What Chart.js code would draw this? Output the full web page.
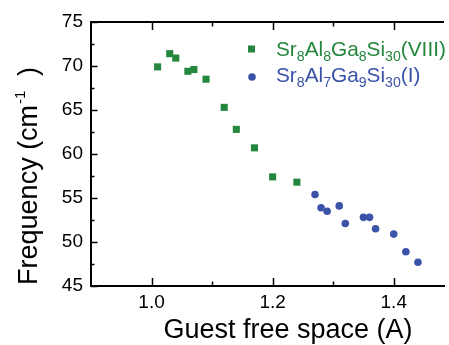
<!DOCTYPE html>
<html>
<head>
<meta charset="utf-8">
<script src="https://cdn.jsdelivr.net/npm/chart.js@4.4.0/dist/chart.umd.min.js"></script>
<style>
  html, body { margin: 0; padding: 0; background: #fff; }
  #wrap { width: 449px; height: 345px; position: relative; }
</style>
</head>
<body>
<div id="wrap"><canvas id="chartFreq"></canvas></div>
<script>
// Datos
const seriesNames = ["Sr8Al8Ga8Si30(VIII)", "Sr8Al7Ga9Si30(I)"];
const viii_x = [1.01, 1.03, 1.04, 1.06, 1.07, 1.09, 1.12, 1.14, 1.17, 1.20, 1.24];
const viii_y = [69.9, 71.4, 70.9, 69.4, 69.6, 68.5, 65.3, 62.8, 60.7, 57.4, 56.8];
const i_x = [1.27, 1.28, 1.29, 1.31, 1.32, 1.35, 1.36, 1.37, 1.40, 1.42, 1.44];
const i_y = [55.4, 53.9, 53.5, 54.1, 52.1, 52.8, 52.8, 51.5, 50.9, 48.9, 47.7];
const xTicks = [1.0, 1.1, 1.2, 1.3, 1.4];
const xTickLabels = ["1.0", "", "1.2", "", "1.4"];
const yTicks = [45, 47.5, 50, 52.5, 55, 57.5, 60, 62.5, 65, 67.5, 70, 72.5, 75];
const xTitle = "Guest free space (A)";
const yTitle = ["Frequency (cm", "-1", " )"];

const verde = "#24873d";
const azul = "#3a53a8";
const fuente = "'Liberation Sans', Arial, sans-serif";

// texto con subíndices (los dígitos van abajo)
function drawFormula(ctx, text, x, y, size, color) {
  ctx.fillStyle = color;
  ctx.textBaseline = "alphabetic";
  ctx.textAlign = "left";
  const parts = text.match(/\d+|\D+/g);
  for (const p of parts) {
    const sub = /\d/.test(p);
    ctx.font = (sub ? size * 0.68 : size) + "px " + fuente;
    ctx.fillText(p, x, sub ? y + size * 0.22 : y);
    x += ctx.measureText(p).width;
  }
}

const marcos = {
  id: "marcos",
  afterDraw(chart) {
    const ctx = chart.ctx;
    const a = chart.chartArea;
    const sx = chart.scales.x;
    const sy = chart.scales.y;
    ctx.save();
    ctx.strokeStyle = "#000";
    // línea superior
    ctx.lineWidth = 2;
    ctx.beginPath();
    ctx.moveTo(a.left - 1, a.top);
    ctx.lineTo(a.right, a.top);
    ctx.stroke();
    // ticks hacia adentro
    ctx.lineWidth = 1.5;
    xTicks.forEach((v, k) => {
      const px = Math.round(sx.getPixelForValue(v)) + 0.5;
      const len = xTickLabels[k] ? 8 : 4.5;
      ctx.beginPath();
      ctx.moveTo(px, a.bottom);
      ctx.lineTo(px, a.bottom - len);
      ctx.moveTo(px, a.top);
      ctx.lineTo(px, a.top + len);
      ctx.stroke();
    });
    yTicks.forEach((v) => {
      const py = Math.round(sy.getPixelForValue(v)) + 0.5;
      const len = v % 5 === 0 ? 6.5 : 3.5;
      ctx.beginPath();
      ctx.moveTo(a.left, py);
      ctx.lineTo(a.left + len, py);
      ctx.stroke();
    });

    // títulos de ejes
    ctx.fillStyle = "#000";
    ctx.font = "27px " + fuente;
    ctx.textAlign = "center";
    ctx.textBaseline = "alphabetic";
    ctx.fillText(xTitle, 288, 338);

    ctx.translate(37, 176);
    ctx.rotate(-Math.PI / 2);
    ctx.textAlign = "left";
    ctx.font = "27px " + fuente;
    const w0 = ctx.measureText(yTitle[0]).width;
    ctx.font = "15px " + fuente;
    const w1 = ctx.measureText(yTitle[1]).width;
    ctx.font = "27px " + fuente;
    const w2 = ctx.measureText(yTitle[2]).width;
    let x0 = -(w0 + w1 + w2 + 8) / 2;
    ctx.fillText(yTitle[0], x0, 0);
    x0 += w0 + 1;
    ctx.font = "15px " + fuente;
    ctx.fillText(yTitle[1], x0, -12);
    x0 += w1 + 7;
    ctx.font = "27px " + fuente;
    ctx.fillText(yTitle[2], x0, 0);
    ctx.restore();

    // leyenda
    ctx.save();
    ctx.fillStyle = verde;
    ctx.fillRect(248, 45.5, 7, 7);
    ctx.fillStyle = azul;
    ctx.beginPath();
    ctx.arc(252, 77, 3.8, 0, Math.PI * 2);
    ctx.fill();
    drawFormula(ctx, seriesNames[0], 276, 56, 20.8, verde);
    drawFormula(ctx, seriesNames[1], 276, 82, 20.8, azul);
    ctx.restore();
  }
};

const chartFreq = new Chart(document.getElementById("chartFreq"), {
  type: "scatter",
  data: {
    datasets: [
      {
        label: seriesNames[0],
        data: viii_x.map((x, k) => ({ x: x, y: viii_y[k] })),
        pointStyle: "rect",
        pointRadius: 5,
        backgroundColor: verde,
        borderWidth: 0,
      },
      {
        label: seriesNames[1],
        data: i_x.map((x, k) => ({ x: x, y: i_y[k] })),
        pointStyle: "circle",
        pointRadius: 3.8,
        backgroundColor: azul,
        borderWidth: 0,
      },
    ],
  },
  options: {
    responsive: true,
    maintainAspectRatio: false,
    animation: false,
    layout: { padding: { top: 22, right: 0, left: 0, bottom: 0 } },
    plugins: { legend: { display: false }, tooltip: { enabled: false } },
    scales: {
      x: {
        type: "linear",
        min: 0.9,
        max: 1.483,
        afterBuildTicks: (s) => { s.ticks = xTicks.map((v) => ({ value: v })); },
        afterFit: (s) => { s.height = 59; },
        grid: { display: false, drawTicks: false },
        border: { display: true, color: "#000", width: 2 },
        ticks: {
          padding: 5,
          color: "#000",
          font: { family: fuente, size: 19 },
          maxRotation: 0,
          autoSkip: false,
          callback: (v, k) => xTickLabels[k],
        },
      },
      y: {
        min: 45,
        max: 75,
        afterBuildTicks: (s) => { s.ticks = yTicks.map((v) => ({ value: v })); },
        afterFit: (s) => { s.width = 91; },
        grid: { display: false, drawTicks: false },
        border: { display: true, color: "#000", width: 2 },
        ticks: {
          padding: 8,
          color: "#000",
          font: { family: fuente, size: 19 },
          autoSkip: false,
          callback: (v) => (v % 5 === 0 ? String(v) : ""),
        },
      },
    },
  },
  plugins: [marcos],
});
</script>
</body>
</html>
